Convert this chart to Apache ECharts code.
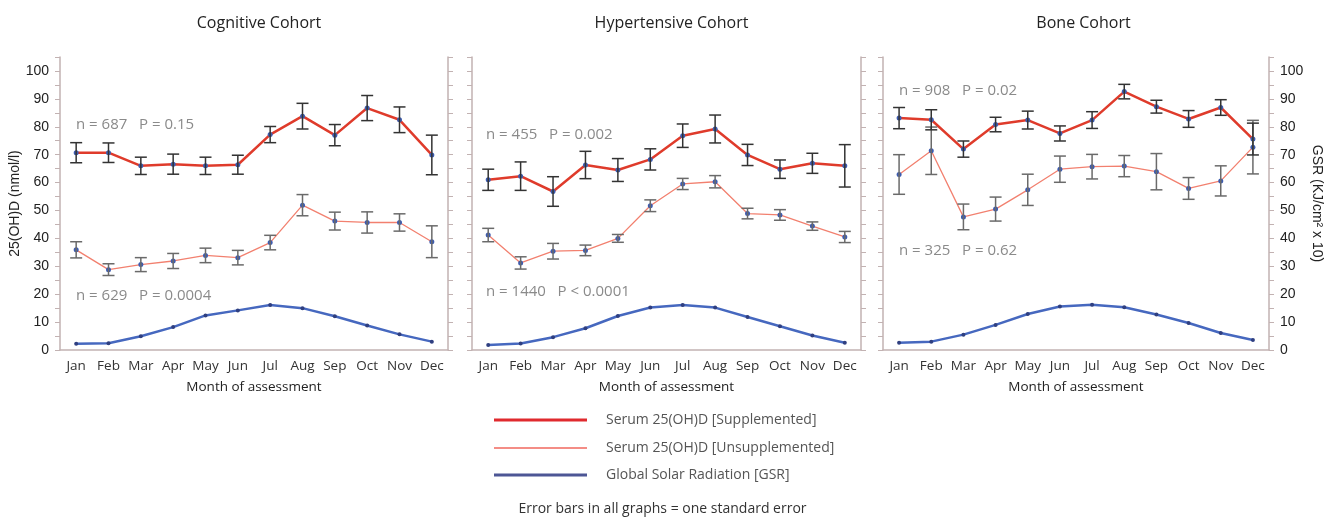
<!DOCTYPE html>
<html><head><meta charset="utf-8">
<script src="https://cdn.jsdelivr.net/npm/echarts@6/dist/echarts.min.js"></script>
<style>html,body{margin:0;padding:0;background:#fff}#c{width:1325px;height:517px}</style>
</head><body><div id="c"></div>
<script>
const months = ['Jan','Feb','Mar','Apr','May','Jun','Jul','Aug','Sep','Oct','Nov','Dec'];
const panelTitles = ['Cognitive Cohort','Hypertensive Cohort','Bone Cohort'];
const yTicks = [0,10,20,30,40,50,60,70,80,90,100];

// Cognitive cohort
const cogSupp     = [70.7,70.7,66.0,66.6,66.0,66.4,77.2,83.8,77.0,86.7,82.5,69.9];
const cogSuppSE   = [3.6,3.5,3.1,3.6,3.1,3.4,2.9,4.6,3.8,4.5,4.6,7.1];
const cogUnsupp   = [35.9,28.8,30.6,31.9,33.9,33.1,38.5,51.9,46.2,45.7,45.7,38.8];
const cogUnsuppSE = [2.9,2.1,2.5,2.7,2.6,2.6,2.6,3.8,3.2,3.8,3.1,5.7];
const cogGSR      = [2.2,2.4,4.9,8.2,12.4,14.2,16.1,15.0,12.1,8.8,5.6,3.0];

// Hypertensive cohort
const hypSupp     = [61.0,62.3,56.8,66.3,64.5,68.3,76.8,79.2,69.9,64.8,66.9,66.0];
const hypSuppSE   = [3.8,5.1,5.3,4.9,4.1,3.8,4.2,5.0,3.8,3.3,3.6,7.6];
const hypUnsupp   = [41.2,31.2,35.4,35.7,40.0,51.7,59.5,60.3,48.9,48.4,44.4,40.5];
const hypUnsuppSE = [2.4,2.2,2.8,1.9,1.4,2.1,2.0,2.2,1.9,1.9,1.5,2.0];
const hypGSR      = [1.8,2.3,4.6,7.8,12.2,15.2,16.1,15.2,11.8,8.5,5.2,2.6];

// Bone cohort
const boneSupp     = [83.1,82.5,72.0,80.8,82.4,77.6,82.4,92.6,87.2,82.8,86.9,75.6];
const boneSuppSE   = [3.8,3.6,2.9,2.6,3.2,2.7,3.0,2.6,2.3,3.0,2.8,5.7];
const boneUnsupp   = [62.9,71.4,47.7,50.5,57.4,64.8,65.7,65.9,63.9,57.9,60.6,72.7];
const boneUnsuppSE = [7.1,8.5,4.6,4.3,5.6,4.7,4.4,3.8,6.5,3.9,5.4,9.6];
const boneGSR      = [2.6,3.0,5.5,9.0,12.9,15.6,16.2,15.3,12.7,9.7,6.1,3.6];

const annTop    = ['n = 687   P = 0.15','n = 455   P = 0.002','n = 908   P = 0.02'];
const annBottom = ['n = 629   P = 0.0004','n = 1440   P < 0.0001','n = 325   P = 0.62'];

const NAME_SUPP = 'Serum 25(OH)D [Supplemented]';
const NAME_UNSUPP = 'Serum 25(OH)D [Unsupplemented]';
const NAME_GSR = 'Global Solar Radiation [GSR]';

const panels = [
  {supp:cogSupp, suppSE:cogSuppSE, uns:cogUnsupp, unsSE:cogUnsuppSE, gsr:cogGSR},
  {supp:hypSupp, suppSE:hypSuppSE, uns:hypUnsupp, unsSE:hypUnsuppSE, gsr:hypGSR},
  {supp:boneSupp, suppSE:boneSuppSE, uns:boneUnsupp, unsSE:boneUnsuppSE, gsr:boneGSR}
];

const grids = [
  {left:60, width:388, top:57, height:293},
  {left:472, width:389, top:57, height:293},
  {left:883, width:391, top:57, height:293}
];

const AXIS_COLOR = '#c2b2b2';
const RED = '#df3b2b';
const CORAL = '#f2806f';
const BLUE = '#4668bf';
const DOT = '#3d5cb0';
const FONT = '"Open Sans", "DejaVu Sans", sans-serif';
const NUMFONT = '"Liberation Sans", Arial, sans-serif';

function errorSeries(vals, se, gi, color) {
  return {
    type:'custom', xAxisIndex:gi, yAxisIndex:gi*2, z:3, silent:true,
    data: vals.map((v,i)=>[i, v-se[i], v+se[i]]),
    encode:{x:0, y:[1,2]},
    renderItem:function(params, api){
      const lo = api.coord([api.value(0), api.value(1)]);
      const hi = api.coord([api.value(0), api.value(2)]);
      const hw = 6;
      const st = {stroke:color, lineWidth:1.5};
      return {type:'group', children:[
        {type:'line', shape:{x1:lo[0],y1:lo[1],x2:hi[0],y2:hi[1]}, style:st},
        {type:'line', shape:{x1:lo[0]-hw,y1:lo[1],x2:lo[0]+hw,y2:lo[1]}, style:st},
        {type:'line', shape:{x1:hi[0]-hw,y1:hi[1],x2:hi[0]+hw,y2:hi[1]}, style:st}
      ]};
    }
  };
}

const xAxis = [], yAxis = [], series = [], title = [], graphic = [];
panels.forEach((p, gi) => {
  const g = grids[gi];
  title.push({text:panelTitles[gi], left:g.left + g.width/2, top:10, textAlign:'center',
    textStyle:{fontFamily:FONT, fontSize:16, fontWeight:'normal', color:'#222'}});
  xAxis.push({type:'category', gridIndex:gi, data:months, boundaryGap:true,
    axisLine:{lineStyle:{color:AXIS_COLOR, width:1.5}}, axisTick:{show:false},
    axisLabel:{interval:0, fontFamily:FONT, fontSize:13.5, color:'#333', margin:9},
    name:'Month of assessment', nameLocation:'middle', nameGap:30,
    nameTextStyle:{fontFamily:FONT, fontSize:13.5, color:'#222'}});
  const yBase = {type:'value', gridIndex:gi, min:0, max:105, interval:5,
    splitLine:{show:false},
    axisLine:{show:true, lineStyle:{color:AXIS_COLOR, width:1.5}},
    axisTick:{show:true, length:5, lineStyle:{color:AXIS_COLOR}}};
  const leftLabels = gi === 0;
  const rightLabels = gi === 2;
  yAxis.push(Object.assign({}, yBase, {position:'left',
    axisLabel:{show:leftLabels, fontFamily:NUMFONT, fontSize:14, color:'#222', margin:11,
      formatter:v => yTicks.indexOf(v) >= 0 ? String(v) : ''},
    name: leftLabels ? '25(OH)D (nmol/l)' : '', nameLocation:'middle', nameGap:35, nameRotate:90,
    nameTextStyle:{fontFamily:NUMFONT, fontSize:14, color:'#222'}}));
  yAxis.push(Object.assign({}, yBase, {position:'right',
    axisLabel:{show:rightLabels, fontFamily:NUMFONT, fontSize:14, color:'#222', margin:11,
      formatter:v => yTicks.indexOf(v) >= 0 ? String(v) : ''},
    name: rightLabels ? 'GSR (KJ/cm² x 10)' : '', nameLocation:'middle', nameGap:41, nameRotate:-90,
    nameTextStyle:{fontFamily:NUMFONT, fontSize:14, color:'#222'}}));

  series.push({type:'line', name:NAME_GSR, xAxisIndex:gi, yAxisIndex:gi*2, data:p.gsr, z:2,
    symbol:'circle', symbolSize:4, showSymbol:true, itemStyle:{color:'#2f3f80'},
    lineStyle:{color:BLUE, width:2.5}});
  series.push({type:'line', name:NAME_UNSUPP, xAxisIndex:gi, yAxisIndex:gi*2, data:p.uns, z:2,
    symbol:'circle', symbolSize:5, itemStyle:{color:DOT}, lineStyle:{color:CORAL, width:1.3}});
  series.push(errorSeries(p.uns, p.unsSE, gi, '#6a6a6a'));
  series.push({type:'line', name:NAME_SUPP, xAxisIndex:gi, yAxisIndex:gi*2, data:p.supp, z:2,
    symbol:'circle', symbolSize:5, itemStyle:{color:DOT}, lineStyle:{color:RED, width:2.5}});
  series.push(errorSeries(p.supp, p.suppSE, gi, '#333333'));
});

const annPos = [
  {x:76, yt:127, yb:296},
  {x:486, yt:137, yb:292},
  {x:899, yt:93, yb:251}
];
annPos.forEach((a, i) => {
  graphic.push({type:'text', left:a.x, top:a.yt-10, style:{text:annTop[i], fill:'#8a8a8a', font:'15px ' + FONT}});
  graphic.push({type:'text', left:a.x, top:a.yb-8, style:{text:annBottom[i], fill:'#8a8a8a', font:'15px ' + FONT}});
});
graphic.push({type:'text', left:'center', top:502, style:{text:'Error bars in all graphs = one standard error', fill:'#333', font:'14px ' + FONT}});

const legendBase = {orient:'vertical', left:494, padding:0, itemWidth:93, itemGap:0, selectedMode:false,
  textStyle:{fontFamily:FONT, fontSize:14, color:'#555', padding:[0,0,0,14]}};
const legend = [
  Object.assign({}, legendBase, {top:413, itemHeight:3, data:[{name:NAME_SUPP, icon:'rect', itemStyle:{color:'#e02a2e'}}]}),
  Object.assign({}, legendBase, {top:441, itemHeight:1.5, data:[{name:NAME_UNSUPP, icon:'rect', itemStyle:{color:'#f0675e'}}]}),
  Object.assign({}, legendBase, {top:468, itemHeight:3, data:[{name:NAME_GSR, icon:'rect', itemStyle:{color:'#4d5695'}}]})
];

const chart = echarts.init(document.getElementById('c'));
chart.setOption({animation:false, title, grid:grids, xAxis, yAxis, series, legend, graphic});
</script></body></html>
